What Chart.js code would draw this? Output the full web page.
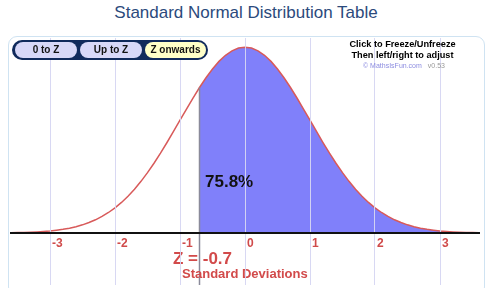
<!DOCTYPE html>
<html>
<head>
<meta charset="utf-8">
<script src="https://cdn.jsdelivr.net/npm/chart.js@4/dist/chart.umd.min.js"></script>
<style>
  body { margin: 0; background: #fff; font-family: "Liberation Sans", Arial, sans-serif; }
  #wrap { position: relative; width: 492px; height: 288px; overflow: hidden; }
  #title { position: absolute; left: 0; top: 3px; width: 492px; text-align: center; font-size: 17px; color: #2b4a7c; }
  #panel { position: absolute; left: 8px; top: 36px; width: 477px; height: 260px; border: 1px solid #cfe3f2; border-radius: 9px; box-sizing: border-box; }
  canvas { position: absolute; left: 0; top: 0; }
  #btns { position: absolute; left: 12px; top: 40px; width: 196px; height: 20px; background: #102a5c; border-radius: 10px; }
  .pill { position: absolute; top: 2px; height: 16px; line-height: 16px; border-radius: 8px / 8px; background: #d8d8f8; font-size: 10px; font-weight: bold; color: #111; text-align: center; }
  .pill.on { background: #ffffc8; }
  #info { position: absolute; left: 340px; top: 39px; width: 125px; text-align: center; font-size: 9.2px; font-weight: bold; color: #000; line-height: 11px; }
  #copy { position: absolute; left: 363px; top: 62px; font-size: 7px; color: #8c8ce0; }
  #copy span { color: #999; margin-left: 6px; }
</style>
</head>
<body>
<div id="wrap">
  <div id="title">Standard Normal Distribution Table</div>
  <div id="panel"></div>
  <canvas id="chart" width="492" height="288"></canvas>
  <div id="btns">
    <div class="pill" style="left:3px;width:62px">0 to Z</div>
    <div class="pill" style="left:68px;width:62px">Up to Z</div>
    <div class="pill on" style="left:133px;width:61px">Z onwards</div>
  </div>
  <div id="info">Click to Freeze/Unfreeze<br>Then left/right to adjust</div>
  <div id="copy">© MathsIsFun.com<span>v0.53</span></div>
</div>
<script>
// z values and standard normal density
const zVals = [-3.6,-3.5,-3.4,-3.3,-3.2,-3.1,-3.0,-2.9,-2.8,-2.7,-2.6,-2.5,-2.4,-2.3,-2.2,-2.1,-2.0,-1.9,-1.8,-1.7,-1.6,-1.5,-1.4,-1.3,-1.2,-1.1,-1.0,-0.9,-0.8,-0.7,-0.6,-0.5,-0.4,-0.3,-0.2,-0.1,
  0,0.1,0.2,0.3,0.4,0.5,0.6,0.7,0.8,0.9,1.0,1.1,1.2,1.3,1.4,1.5,1.6,1.7,1.8,1.9,2.0,2.1,2.2,2.3,2.4,2.5,2.6,2.7,2.8,2.9,3.0,3.1,3.2,3.3,3.4,3.5,3.6];
const density = [0.0006,0.0009,0.0012,0.0017,0.0024,0.0033,0.0044,0.0060,0.0079,0.0104,0.0136,0.0175,0.0224,0.0283,0.0355,0.0440,0.0540,0.0656,0.0790,0.0940,0.1109,0.1295,0.1497,0.1714,0.1942,0.2179,0.2420,0.2661,0.2897,0.3123,0.3332,0.3521,0.3683,0.3814,0.3910,0.3970,
  0.3989,0.3970,0.3910,0.3814,0.3683,0.3521,0.3332,0.3123,0.2897,0.2661,0.2420,0.2179,0.1942,0.1714,0.1497,0.1295,0.1109,0.0940,0.0790,0.0656,0.0540,0.0440,0.0355,0.0283,0.0224,0.0175,0.0136,0.0104,0.0079,0.0060,0.0044,0.0033,0.0024,0.0017,0.0012,0.0009,0.0006];
const tickVals = [-3,-2,-1,0,1,2,3];
const zValue = -0.7;
const areaPct = "75.8%";

const curve = zVals.map((z, i) => ({ x: z, y: density[i] }));
const shade = curve.filter(p => p.x >= zValue - 1e-9);

// texte e linha do Z
const extras = {
  id: "extras",
  afterDatasetsDraw(chart) {
    const { ctx, scales: { x, y }, chartArea } = chart;
    const px = x.getPixelForValue(zValue);
    const top = y.getPixelForValue(shade[0].y);
    ctx.save();
    ctx.strokeStyle = "#8a8a9a";
    ctx.lineWidth = 1.5;
    ctx.beginPath();
    ctx.moveTo(px, top);
    ctx.lineTo(px, chartArea.bottom);
    ctx.stroke();

    ctx.fillStyle = "#111";
    ctx.font = "bold 17px 'Liberation Sans', Arial";
    ctx.textBaseline = "middle";
    ctx.fillText(areaPct, 205, 182);

    ctx.fillStyle = "#d24a4a";
    ctx.font = "bold 17px 'Liberation Sans', Arial";
    ctx.fillText("Z = " + zValue, 173, 259);
    ctx.font = "bold 13px 'Liberation Sans', Arial";
    ctx.fillText("Standard Deviations", 182, 274);
    ctx.restore();
  }
};

new Chart(document.getElementById("chart"), {
  type: "line",
  data: {
    datasets: [
      {
        data: curve,
        borderColor: "#d85a5a",
        borderWidth: 1.5,
        pointRadius: 0,
        fill: false,
        order: 1
      },
      {
        data: shade,
        borderWidth: 0,
        borderColor: "rgba(0,0,0,0)",
        backgroundColor: "rgb(128,128,250)",
        pointRadius: 0,
        fill: "origin",
        order: 2
      }
    ]
  },
  options: {
    responsive: false,
    animation: false,
    layout: { padding: { left: 11, right: 13, top: 38, bottom: 3 } },
    plugins: { legend: { display: false }, tooltip: { enabled: false } },
    scales: {
      x: {
        type: "linear",
        min: -3.6,
        max: 3.6,
        position: { y: 0 },
        afterBuildTicks: s => { s.ticks = tickVals.map(v => ({ value: v })); },
        grid: { color: "rgba(214,214,242,0.95)", lineWidth: 1, drawTicks: false, z: 1 },
        border: { color: "#111", width: 2, z: 1 },
        ticks: {
          align: "start",
          labelOffset: 2,
          padding: 3,
          color: "#d04a4a",
          font: { family: "'Liberation Sans', Arial", size: 12, weight: "bold" }
        }
      },
      y: { display: false, min: -0.1116, max: 0.4185 }
    }
  },
  plugins: [extras]
});
</script>
</body>
</html>
